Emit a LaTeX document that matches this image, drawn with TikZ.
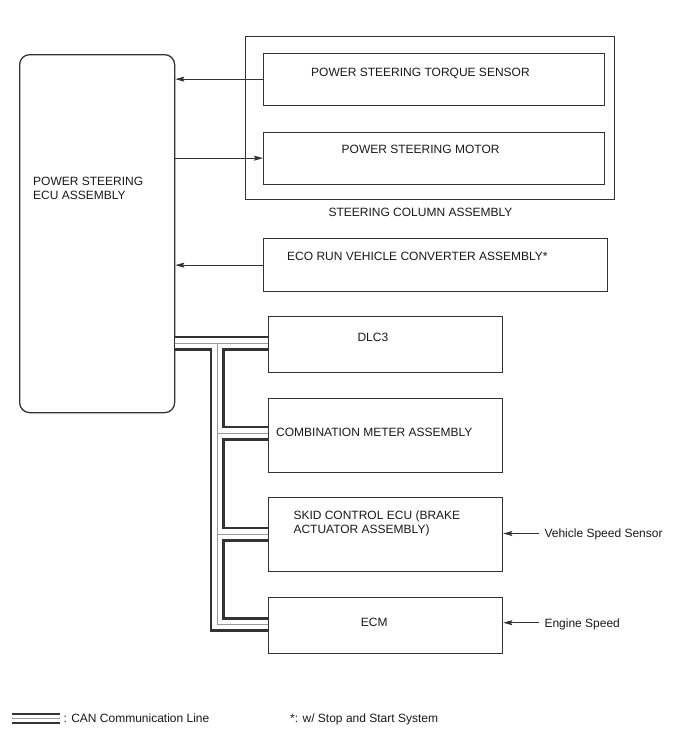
\documentclass[tikz,border=0pt]{standalone}
\usepackage{fontspec}
\setmainfont{Liberation Sans}
\usetikzlibrary{arrows.meta}
\definecolor{ln}{HTML}{333333}
\definecolor{tx}{HTML}{1A1A1A}
\definecolor{cangrey}{HTML}{9A9A9A}
\begin{document}
\begin{tikzpicture}[x=1pt,y=-1pt,
  box/.style={draw=ln,line width=1.3pt,rectangle,inner sep=0pt},
  rbox/.style={box,rounded corners=10pt},
  lbl/.style={anchor=base west,inner sep=0pt,text=tx,font=\fontsize{12}{14}\selectfont},
  sig/.style={draw=ln,line width=0.9pt,-{Stealth[length=9pt,width=5pt,inset=1.5pt]}},
  canblack/.style={draw=ln,line width=15pt,line join=miter,line cap=butt},
  canwhite/.style={draw=white,line width=9.6pt,line join=miter,line cap=butt},
  cangr/.style={draw=cangrey,line width=1pt,line join=miter,line cap=butt},
  legblack/.style={draw=ln,line width=11.5pt,line cap=butt},
  legwhite/.style={draw=white,line width=6.8pt,line cap=butt},
  leggr/.style={draw=cangrey,line width=1pt,line cap=butt}]
\useasboundingbox[fill=white] (0,0) rectangle (688,755);

% boxes
\node[rbox,minimum width=155pt,minimum height=358pt,anchor=north west] (ecu) at (19,54) {};
\node[box,minimum width=369pt,minimum height=163pt,anchor=north west] (col) at (245,36) {};
\node[box,minimum width=341pt,minimum height=52pt,anchor=north west] (tq) at (263,52.5) {};
\node[box,minimum width=341pt,minimum height=52pt,anchor=north west] (mot) at (263,131.5) {};
\node[box,minimum width=344pt,minimum height=53pt,anchor=north west] (eco) at (263,238) {};
\node[box,minimum width=234pt,minimum height=56pt,anchor=north west] (dlc) at (268,316) {};
\node[box,minimum width=234pt,minimum height=74pt,anchor=north west] (cmb) at (268,397.5) {};
\node[box,minimum width=234pt,minimum height=74pt,anchor=north west] (skd) at (268,497) {};
\node[box,minimum width=234pt,minimum height=56pt,anchor=north west] (ecm) at (268,596.5) {};

% texts
\node[lbl] (tecu1) at (33,185.3) {POWER STEERING};
\node[lbl] (tecu2) at (33,199) {ECU ASSEMBLY};
\node[lbl] (ttq) at (311,76) {POWER STEERING TORQUE SENSOR};
\node[lbl] (tmot) at (341.5,153.3) {POWER STEERING MOTOR};
\node[lbl] (tcol) at (328.3,216.7) {STEERING COLUMN ASSEMBLY};
\node[lbl] (teco) at (287,260) {ECO RUN VEHICLE CONVERTER ASSEMBLY*};
\node[lbl] (tdlc) at (357.3,341) {DLC3};
\node[lbl] (tcmb) at (276,436) {COMBINATION METER ASSEMBLY};
\node[lbl] (tskd1) at (293.3,519.3) {SKID CONTROL ECU (BRAKE};
\node[lbl] (tskd2) at (293.3,533.3) {ACTUATOR ASSEMBLY)};
\node[lbl] (tecm) at (360.7,626.7) {ECM};
\node[lbl] (tvss) at (544.3,537.3) {Vehicle Speed Sensor};
\node[lbl] (teng) at (544.3,627.3) {Engine Speed};
\node[lbl] (tleg) at (63.3,722.7) {: CAN Communication Line};
\node[lbl] (tstar) at (290,722.7) {*: w/ Stop and Start System};

% signal arrows
\draw[sig] (tq.west) -- (tq.west -| ecu.east);
\draw[sig] (mot.west -| ecu.east) -- (mot.west);
\draw[sig] (eco.west) -- (eco.west -| ecu.east);
\coordinate (vssend) at (539.3,533.5);
\coordinate (engend) at (539.3,622.7);
\draw[sig] (vssend) -- (vssend -| skd.east);
\draw[sig] (engend) -- (engend -| ecm.east);

% CAN bus tree
\coordinate (bj) at (217,343);
\coordinate (bc) at (217,433);
\coordinate (bs) at (217,534);
\coordinate (be) at (217,624.5);
\foreach \st in {canblack,canwhite,cangr}{
  \draw[\st] (bj -| ecu.east) -- (bj -| dlc.west);
  \draw[\st] (bj) -- (be) -- (be -| ecm.west);
  \draw[\st] (bc) -- (bc -| cmb.west);
  \draw[\st] (bs) -- (bs -| skd.west);
}

% legend
\coordinate (la) at (12,718.5);
\coordinate (lb) at (60,718.5);
\foreach \st in {legblack,legwhite,leggr}{
  \draw[\st] (la) -- (lb);
}
\end{tikzpicture}
\end{document}
